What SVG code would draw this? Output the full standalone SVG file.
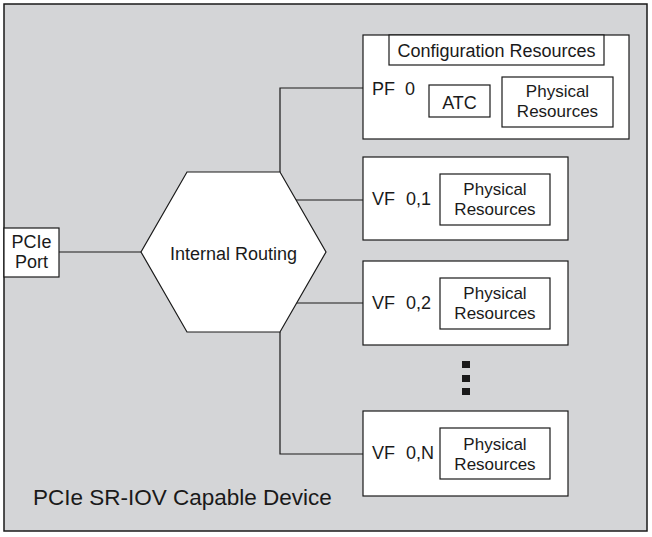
<svg xmlns="http://www.w3.org/2000/svg" width="652" height="537" viewBox="0 0 652 537">
<style>
.box{fill:#ffffff;stroke:#1a1a1a;stroke-width:1.2}
.wire{fill:none;stroke:#1a1a1a;stroke-width:1.2}
text{font-family:"Liberation Sans",Arial,sans-serif;font-size:18px;fill:#1a1a1a}
.c{text-anchor:middle}
.pr{font-size:17px}
</style>
<rect id="device" x="4" y="4" width="643" height="527" fill="#d4d5d7" stroke="#1a1a1a" stroke-width="1.5"/>
<text x="33" y="505" style="font-size:22.5px">PCIe SR-IOV Capable Device</text>
<g id="connectors">
<line class="wire" x1="59" y1="252" x2="141" y2="252"/>
<polyline class="wire" points="280,172 280,88 363,88"/>
<line class="wire" x1="296" y1="200" x2="363" y2="200"/>
<line class="wire" x1="296" y1="303" x2="363" y2="303"/>
<polyline class="wire" points="280,332 280,454 363,454"/>
</g>
<g id="pcie-port">
<rect class="box" x="4" y="228" width="55" height="49"/>
<text class="c" x="31.5" y="248">PCIe</text>
<text class="c" x="31.5" y="268">Port</text>
</g>
<g id="internal-routing">
<polygon class="box" points="187,172 280,172 326,252 280,332 187,332 141,252"/>
<text class="c" x="233.5" y="260">Internal Routing</text>
</g>
<g id="pf0">
<rect class="box" x="363" y="35" width="266" height="104"/>
<rect class="box" x="389" y="35" width="215" height="30"/>
<text class="c" x="496.5" y="57">Configuration Resources</text>
<text x="372" y="95">PF</text>
<text x="405" y="95">0</text>
<rect class="box" x="429" y="85" width="61" height="32"/>
<text class="c" x="459.5" y="109">ATC</text>
<rect class="box" x="502" y="77" width="111" height="50"/>
<text class="c pr" x="557.5" y="97">Physical</text>
<text class="c pr" x="557.5" y="117">Resources</text>
</g>
<g id="vf01">
<rect class="box" x="363" y="157" width="205" height="83"/>
<text x="372" y="205">VF</text>
<text x="406" y="205">0,1</text>
<rect class="box" x="440" y="174" width="110" height="51"/>
<text class="c pr" x="495" y="195">Physical</text>
<text class="c pr" x="495" y="215">Resources</text>
</g>
<g id="vf02">
<rect class="box" x="363" y="261" width="205" height="84"/>
<text x="372" y="309">VF</text>
<text x="406" y="309">0,2</text>
<rect class="box" x="440" y="278" width="110" height="51"/>
<text class="c pr" x="495" y="299">Physical</text>
<text class="c pr" x="495" y="319">Resources</text>
</g>
<g id="ellipsis" fill="#1a1a1a">
<rect x="462" y="361" width="8" height="7"/>
<rect x="462" y="375" width="8" height="7"/>
<rect x="462" y="388" width="8" height="7"/>
</g>
<g id="vf0n">
<rect class="box" x="363" y="411" width="205" height="85"/>
<text x="372" y="459">VF</text>
<text x="406" y="459">0,N</text>
<rect class="box" x="440" y="428" width="110" height="51"/>
<text class="c pr" x="495" y="450">Physical</text>
<text class="c pr" x="495" y="470">Resources</text>
</g>
</svg>
